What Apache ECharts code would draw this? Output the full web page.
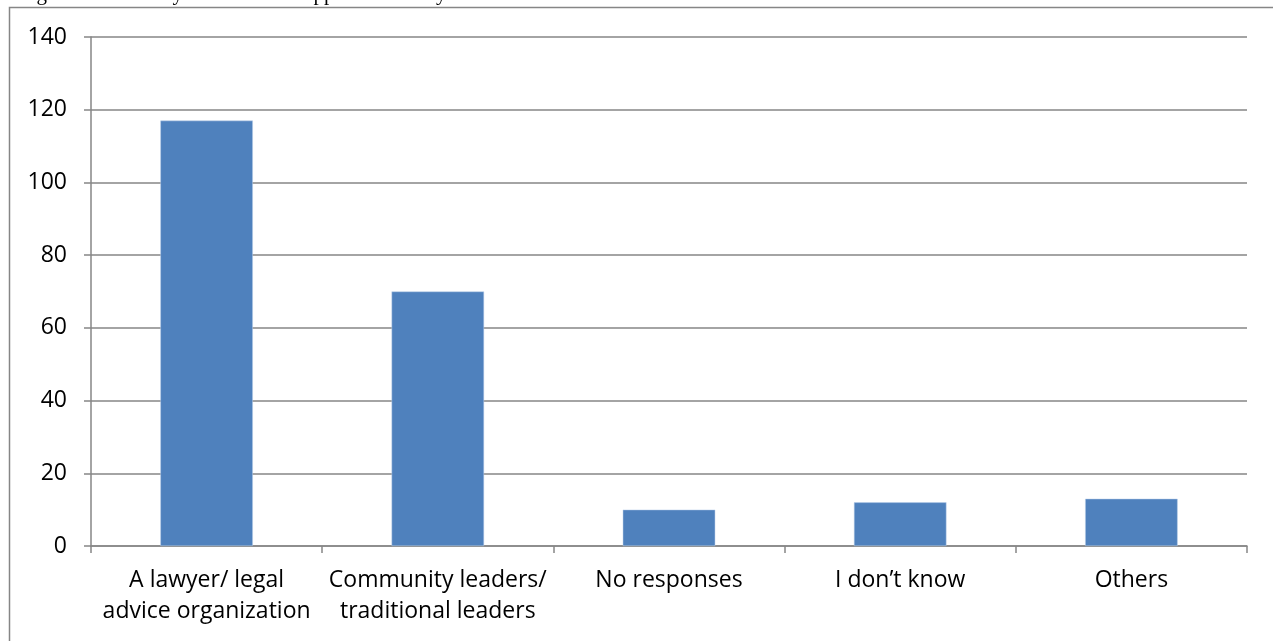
<!DOCTYPE html>
<html>
<head>
<meta charset="utf-8" />
<title>Chart</title>
<style>
  html, body { margin: 0; padding: 0; background: #fff; }
  #main { width: 1273px; height: 641px; }
</style>
</head>
<body>
<div id="main"></div>
<script src="https://cdn.jsdelivr.net/npm/echarts@6/dist/echarts.min.js"></script>
<script>
// data
var categories = [
  'A lawyer/ legal\nadvice organization',
  'Community leaders/\ntraditional leaders',
  'No responses',
  'I don\u2019t know',
  'Others'
];
var counts = [117, 70, 10, 12, 13];
var yTicks = { min: 0, max: 140, interval: 20 };

// caption above the frame, cut off by the top edge of the picture
var captionText = 'Figure 5: Who they would like to approach first by';

var chart = echarts.init(document.getElementById('main'));
var axisGray = '#868686';
var labelFont = '"Open Sans", "Noto Sans", sans-serif';

chart.setOption({
  animation: false,
  backgroundColor: '#fff',
  graphic: [
    {
      type: 'rect',
      shape: { x: 9.5, y: 7.5, width: 1400, height: 800 },
      style: { fill: 'none', stroke: axisGray, lineWidth: 1.5 },
      silent: true
    },
    {
      type: 'text',
      x: 19,
      y: -16,
      style: {
        text: captionText,
        font: '21px "Liberation Serif", "DejaVu Serif", serif',
        fill: '#000'
      }
    }
  ],
  grid: { left: 91, right: 26, top: 37, bottom: 95 },
  xAxis: {
    type: 'category',
    data: categories,
    boundaryGap: true,
    axisLine: { lineStyle: { color: axisGray, width: 1.5 } },
    axisTick: { show: true, length: 7, alignWithLabel: false, lineStyle: { color: axisGray, width: 1.5 } },
    axisLabel: {
      color: '#000',
      fontSize: 23,
      fontFamily: labelFont,
      lineHeight: 31,
      margin: 19,
      interval: 0
    }
  },
  yAxis: {
    type: 'value',
    min: yTicks.min,
    max: yTicks.max,
    interval: yTicks.interval,
    axisLine: { show: true, lineStyle: { color: axisGray, width: 1.5 } },
    axisTick: { show: true, length: 7, lineStyle: { color: axisGray, width: 1.5 } },
    splitLine: { lineStyle: { color: axisGray, width: 1.5 } },
    axisLabel: {
      color: '#000',
      fontSize: 23,
      fontFamily: labelFont,
      margin: 24
    }
  },
  series: [{
    type: 'bar',
    data: counts,
    barWidth: '40%',
    itemStyle: { color: '#4F81BD', borderColor: '#bcd0ea', borderWidth: 0.5 }
  }]
});
</script>
</body>
</html>
